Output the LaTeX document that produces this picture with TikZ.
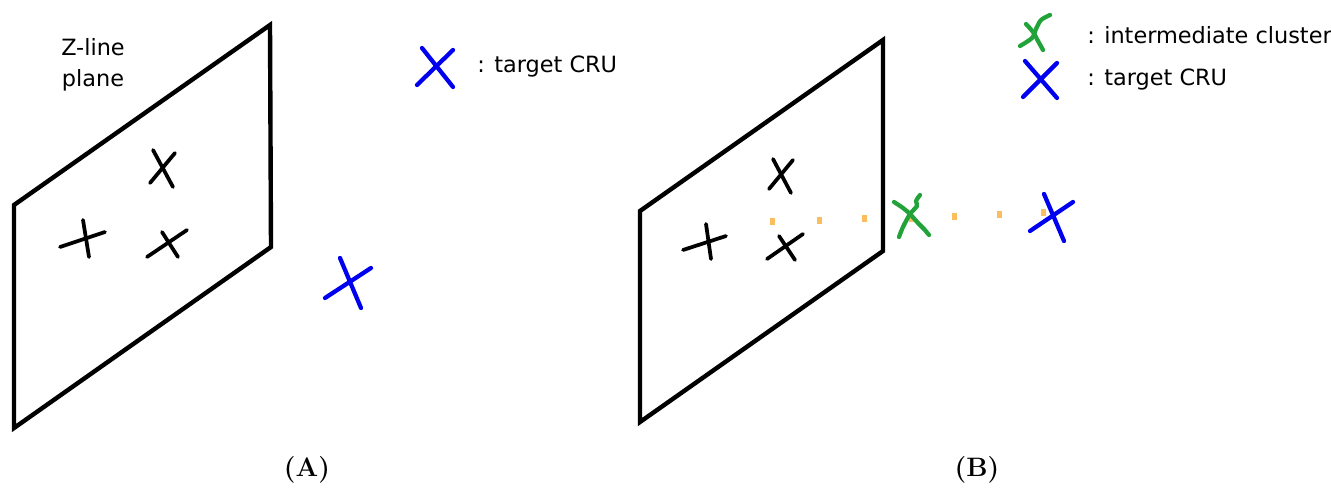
\documentclass[tikz,border=0pt]{standalone}
\usepackage{fontspec}
\setsansfont{DejaVu Sans}
\usepackage{xcolor}
\usepackage{tikz}
\usetikzlibrary{positioning}
\definecolor{cruBlue}{HTML}{0000F0}
\definecolor{clGreen}{HTML}{22A33A}
\definecolor{dotOrange}{HTML}{FBBD5E}
\newcommand{\drawcross}[5]{%
\draw[#1] (#2) -- (#3);%
\draw[#1] (#4) -- (#5);}
\newcommand{\orangedot}[2]{%
\fill[dotOrange] (#1-2.5,#2-3.5) rectangle (#1+2.5,#2+3.5);}
\begin{document}
\begin{tikzpicture}[x=0.75pt, y=-0.75pt,
  plane/.style={line width=3.3pt, line join=miter},
  blackx/.style={line width=2.8pt, line cap=round},
  bluex/.style={line width=3.2pt, line cap=round, cruBlue},
  greenx/.style={line width=3.2pt, line cap=round, line join=round, clGreen},
  lbl/.style={inner sep=0pt, font=\sffamily\fontsize{16.8}{23}\selectfont},
  capt/.style={inner sep=0pt, font=\bfseries\fontsize{20}{22}\selectfont}]
\useasboundingbox (0,0) rectangle (1331,488);
% panel A
\draw[plane] (14,205) -- (270,25) -- (271,247) -- (14,428) -- cycle;
\node[lbl, align=center] (zline) at (93,65) {Z-line\\plane};
\drawcross{blackx}{153,150}{173,187}{175,153}{150,183}
\drawcross{blackx}{60,247}{105,232}{83,220}{89,257}
\drawcross{blackx}{147,257}{187,230}{162,232}{178,257}
\drawcross{bluex}{325,298}{371,268}{340,258}{361,308}
\drawcross{bluex}{422,48}{453,87}{453,50}{417,85}
\node[lbl, anchor=west] (legA) at (477,67) {: target CRU};
\node[capt] (capA) at (307,470) {(A)};
% panel B
\draw[plane] (640,211) -- (883,40) -- (883,251) -- (640,422) -- cycle;
\drawcross{blackx}{773,159}{791,193}{793,160}{769,189}
\drawcross{blackx}{683,250}{726,236}{706,224}{711,259}
\drawcross{blackx}{767,259}{803,234}{779,236}{795,260}
\orangedot{772}{222}
\orangedot{819}{221}
\orangedot{864}{219}
\orangedot{911}{219}
\orangedot{954}{217}
\orangedot{999}{215}
\orangedot{1043}{213}
\draw[greenx] plot[smooth] coordinates {(894,202) (903,208) (910,214) (918,223) (924,229) (929,235)};
\draw[greenx] plot[smooth] coordinates {(920,195) (916,201) (917,206) (910,214) (903,227) (899,237)};
\drawcross{bluex}{1030,231}{1073,202}{1044,194}{1064,241}
\draw[greenx] plot[smooth] coordinates {(1050,15) (1041,20) (1036,29) (1032,38) (1020,46)};
\draw[greenx] plot[smooth] coordinates {(1026,24) (1033,32) (1038,41) (1043,50)};
\drawcross{bluex}{1025,61}{1057,98}{1057,63}{1023,97}
\node[lbl, anchor=west] (legBi) at (1087,35) {: intermediate cluster};
\node[lbl, anchor=west] (legBt) at (1087,80) {: target CRU};
\node[capt] (capB) at (977,470) {(B)};
\end{tikzpicture}
\end{document}
